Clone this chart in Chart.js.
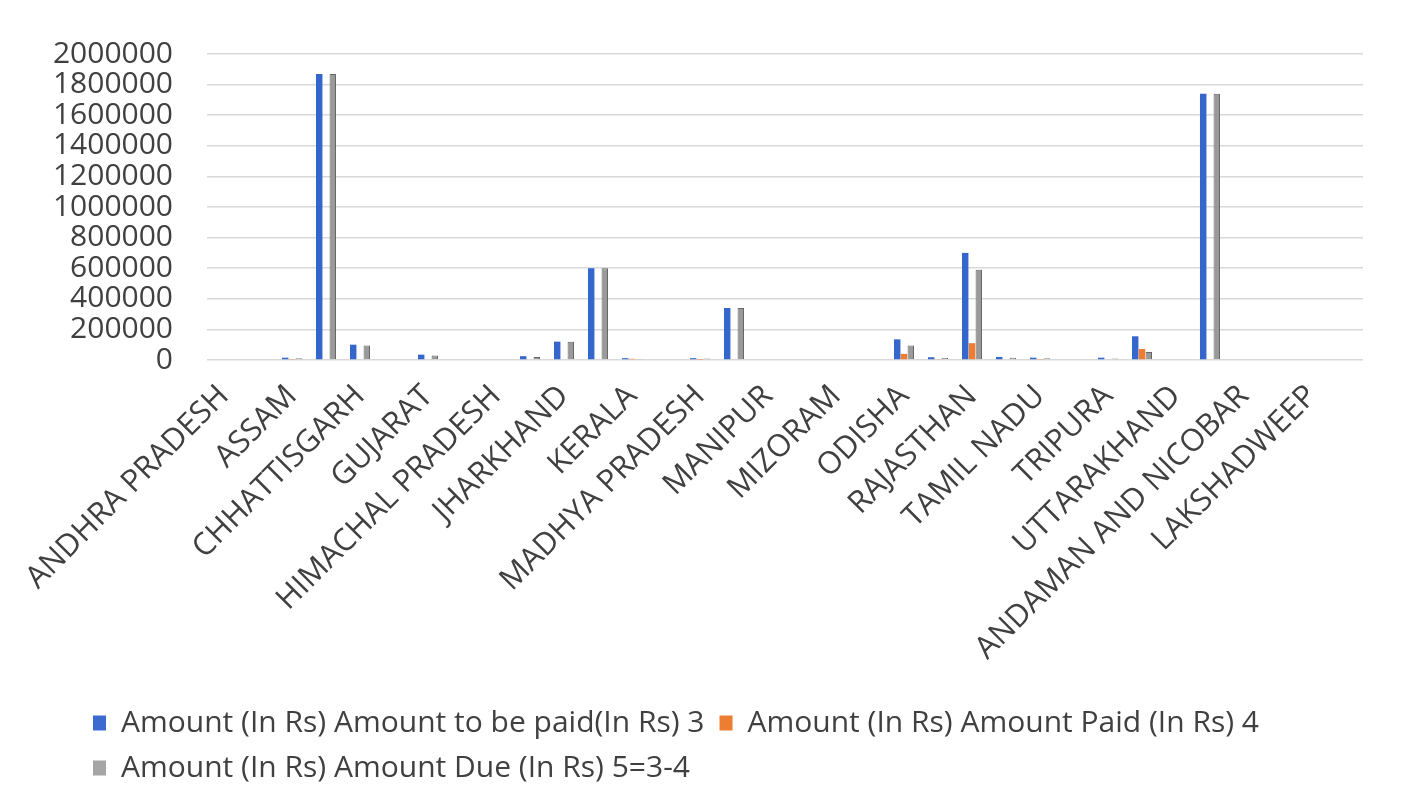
<!DOCTYPE html>
<html>
<head>
<meta charset="utf-8">
<script src="https://cdn.jsdelivr.net/npm/chart.js@4.4.1/dist/chart.umd.min.js"></script>
<style>
  html, body { margin: 0; padding: 0; background: #ffffff; }
  canvas { display: block; }
</style>
</head>
<body>
<canvas id="chart" width="1401" height="803"></canvas>
<script>
// States / UTs in list order (only every other name is printed on the axis)
const states = [
  'ANDHRA PRADESH', 'ARUNACHAL PRADESH', 'ASSAM', 'BIHAR', 'CHHATTISGARH', 'GOA',
  'GUJARAT', 'HARYANA', 'HIMACHAL PRADESH', 'JAMMU AND KASHMIR', 'JHARKHAND', 'KARNATAKA',
  'KERALA', 'LADAKH', 'MADHYA PRADESH', 'MAHARASHTRA', 'MANIPUR', 'MEGHALAYA',
  'MIZORAM', 'NAGALAND', 'ODISHA', 'PUNJAB', 'RAJASTHAN', 'SIKKIM',
  'TAMIL NADU', 'TELANGANA', 'TRIPURA', 'UTTAR PRADESH', 'UTTARAKHAND', 'WEST BENGAL',
  'ANDAMAN AND NICOBAR', 'DELHI', 'LAKSHADWEEP', 'PUDUCHERRY'
];

// Column 3: amount to be paid (Rs)
const amountToBePaid = [
  0, 0, 15000, 1870000, 100000, 0,
  35000, 0, 0, 25000, 120000, 600000,
  12000, 0, 12000, 340000, 0, 0,
  0, 0, 135000, 18000, 700000, 20000,
  15000, 0, 15000, 155000, 0, 1740000,
  0, 0, 0, 0
];

// Column 4: amount paid (Rs)
const amountPaid = [
  0, 0, 3000, 0, 5000, 0,
  5000, 0, 0, 5000, 0, 0,
  8000, 0, 2000, 0, 0, 0,
  0, 0, 40000, 4000, 110000, 5000,
  3000, 0, 5000, 72000, 0, 0,
  0, 0, 0, 0
];

// Column 5 = 3 - 4: amount due (Rs)
const amountDue = [
  0, 0, 12000, 1870000, 95000, 0,
  30000, 0, 0, 20000, 120000, 600000,
  4000, 0, 10000, 340000, 0, 0,
  0, 0, 95000, 14000, 590000, 15000,
  12000, 0, 10000, 52000, 0, 1740000,
  0, 0, 0, 0
];

const seriesNames = [
  'Amount (In Rs) Amount to be paid(In Rs) 3',
  'Amount (In Rs) Amount Paid (In Rs) 4',
  'Amount (In Rs) Amount Due (In Rs) 5=3-4'
];

const yMin = 0;
const yMax = 2000000;
const yStep = 200000;

const FONT = "'Open Sans', 'Liberation Sans', sans-serif";
const TEXT = '#404040';

// Legend rows start under the value axis labels rather than at the canvas edge
const legendIndent = {
  id: 'legendIndent',
  afterLayout(chart) {
    if (chart.legend) chart.legend.left += 78;
  }
};

const ctx = document.getElementById('chart').getContext('2d');

new Chart(ctx, {
  type: 'bar',
  data: {
    labels: states,
    datasets: [
      {
        label: seriesNames[0],
        data: amountToBePaid,
        backgroundColor: '#3466cc',
        borderWidth: 0,
        categoryPercentage: 0.6,
        barPercentage: 0.95
      },
      {
        label: seriesNames[1],
        data: amountPaid,
        backgroundColor: '#ed7d31',
        borderWidth: 0,
        categoryPercentage: 0.6,
        barPercentage: 0.95
      },
      {
        label: seriesNames[2],
        data: amountDue,
        backgroundColor: '#9a9a9a',
        borderColor: '#666666',
        borderWidth: 1,
        categoryPercentage: 0.6,
        barPercentage: 0.95
      }
    ]
  },
  plugins: [legendIndent],
  options: {
    responsive: false,
    animation: false,
    devicePixelRatio: 1,
    layout: { padding: { left: 0, right: 38, top: 54, bottom: 10 } },
    plugins: {
      tooltip: { enabled: false },
      legend: {
        position: 'bottom',
        align: 'start',
        labels: {
          color: TEXT,
          font: { family: FONT, size: 30 },
          boxWidth: 13,
          boxHeight: 15,
          padding: 15,
          generateLabels(chart) {
            const items = Chart.defaults.plugins.legend.labels.generateLabels(chart);
            const swatches = ['#3b6bd0', '#ed7d31', '#a5a5a5'];
            items.forEach((it, i) => {
              it.fillStyle = swatches[i];
              it.strokeStyle = swatches[i];
              it.lineWidth = 0;
            });
            return items;
          }
        }
      }
    },
    scales: {
      x: {
        grid: { display: false, drawTicks: false },
        border: { display: false },
        ticks: {
          autoSkip: false,
          minRotation: 45,
          maxRotation: 45,
          padding: 18,
          color: TEXT,
          font: { family: FONT, size: 31 },
          callback: (value, index) => (index % 2 === 0 ? states[index] : '')
        },
        afterFit(scale) { scale.height = 333; }
      },
      y: {
        min: yMin,
        max: yMax,
        grid: { color: '#d9d9d9', lineWidth: 1.5, drawTicks: false },
        border: { display: false },
        ticks: {
          autoSkip: false,
          stepSize: yStep,
          padding: 34,
          color: TEXT,
          font: { family: FONT, size: 30 },
          callback: (v) => String(v)
        },
        afterFit(scale) { scale.width = 207; }
      }
    }
  }
});
</script>
</body>
</html>
